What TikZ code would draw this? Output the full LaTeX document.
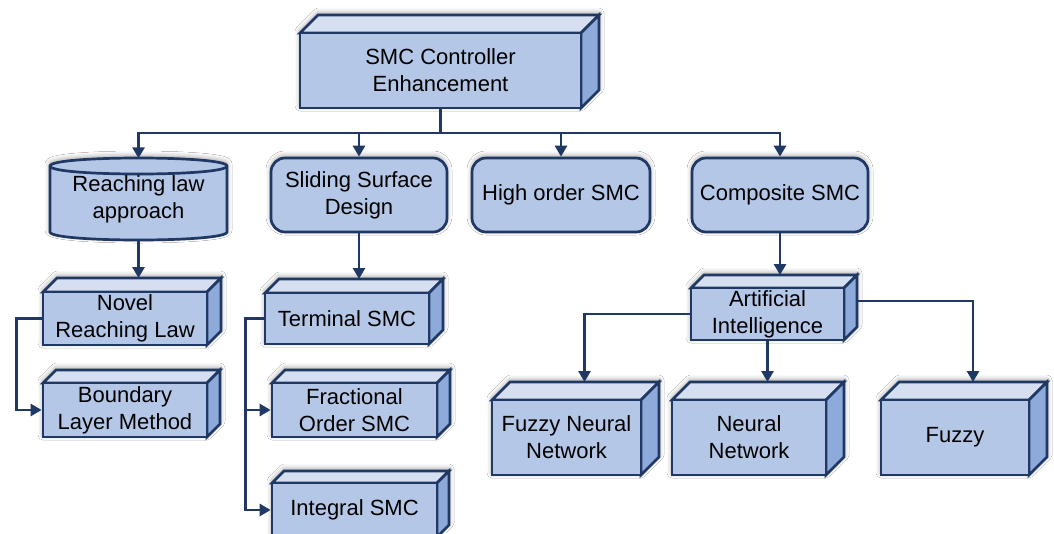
\documentclass[tikz,border=0pt]{standalone}
\usepackage{fontspec}
\setmainfont{Liberation Sans}
\usetikzlibrary{arrows.meta,shadows.blur}

\definecolor{boxfront}{HTML}{B4C7E7}
\definecolor{boxtop}{HTML}{D6DFF1}
\definecolor{boxside}{HTML}{8EAADB}
\definecolor{navy}{HTML}{203864}

\newcommand\boxfont{\fontsize{22}{27}\selectfont}

\tikzset{
  outline/.style={draw=navy, line width=2.7pt, line join=miter},
  softshadow/.style={blur shadow={shadow xshift=0pt, shadow yshift=2pt,
      shadow blur radius=5pt, shadow opacity=40}},
  cubefront/.style={outline, fill=boxfront, inner sep=0pt, align=center, font=\boxfont},
  cubetop/.style={outline, fill=boxtop},
  cubeside/.style={outline, fill=boxside},
  roundbox/.style={outline, fill=boxfront, rounded corners=14pt, inner sep=0pt,
      align=center, minimum height=74pt, font=\boxfont, softshadow},
  link/.style={draw=navy, line width=2.7pt},
  arr/.style={link, -{Triangle[length=11pt,width=12pt]}},
}

% 3-D block: name, front-face x1, y1, x2, y2, depth, text
\newcommand\cubenode[7]{%
  \path[softshadow, fill=white] (#2,#5) -- (#2,#3) -- ({#2+#6},{#3-#6}) -- ({#4+#6},{#3-#6})
      -- ({#4+#6},{#5-#6}) -- (#4,#5) -- cycle;
  \filldraw[cubetop] (#2,#3) -- ({#2+#6},{#3-#6}) -- ({#4+#6},{#3-#6}) -- (#4,#3) -- cycle;
  \filldraw[cubeside] (#4,#3) -- ({#4+#6},{#3-#6}) -- ({#4+#6},{#5-#6}) -- (#4,#5) -- cycle;
  \node[cubefront, minimum width={(#4-#2)*1pt}, minimum height={(#5-#3)*1pt}]
      (#1) at ({(#2+#4)/2},{(#3+#5)/2}) {#7};
  \coordinate (#1 top) at ({(#2+#4)/2+#6},{#3-#6});
}

\begin{document}
\begin{tikzpicture}[x=1pt, y=-1pt]
\useasboundingbox (0,0) rectangle (1054,533);
\clip (0,0) rectangle (1054,533);
\fill[white] (0,0) rectangle (1054,533);

% root
\cubenode{root}{300}{33}{581}{108}{18}{SMC Controller\\Enhancement}

% second level
\path[softshadow, fill=white] (50,166) -- (50,232) .. controls (50,242.67) and (227,242.67) .. (227,232)
   -- (227,166) .. controls (227,155.33) and (50,155.33) .. (50,166) -- cycle;
\filldraw[outline, fill=boxfront] (50,166) -- (50,232) .. controls (50,242.67) and (227,242.67) .. (227,232)
   -- (227,166) .. controls (227,155.33) and (50,155.33) .. (50,166) -- cycle;
\draw[outline] (50,166) .. controls (50,176.67) and (227,176.67) .. (227,166);
\node[inner sep=0pt, minimum width=177pt, minimum height=82pt, align=center, font=\boxfont]
   (reach) at (138.5,199.5) {Reaching law\\approach};

\node[roundbox, minimum width=176pt] (slide) at (359,195) {Sliding Surface\\Design};
\node[roundbox, minimum width=178pt] (high) at (561,195) {High order SMC};
\node[roundbox, minimum width=176pt] (comp) at (780,195) {Composite SMC};

% third level
\cubenode{novel}{43}{292}{207}{345}{14}{Novel\\Reaching Law}
\cubenode{boundary}{43}{383}{207}{437}{13}{Boundary\\Layer Method}
\cubenode{terminal}{265}{293}{429}{344}{14}{Terminal SMC}
\cubenode{fractional}{272}{383}{437}{437}{13}{Fractional\\Order SMC}
\cubenode{integral}{272}{483}{437}{537}{12}{Integral SMC}
\cubenode{ai}{691}{288}{844}{340}{13}{Artificial\\Intelligence}

% fourth level
\cubenode{fnn}{492}{400}{641}{475}{18}{Fuzzy Neural\\Network}
\cubenode{nn}{672}{400}{826}{475}{18}{Neural\\Network}
\cubenode{fuzzy}{881}{400}{1029}{475}{18}{Fuzzy}

% connectors
\coordinate (bus) at (440.5,133);
\draw[link] (root.south) -- (bus);
\draw[arr] (bus) -| (reach.north);
\draw[arr] (bus) -| (slide.north);
\draw[arr] (bus) -| (high.north);
\draw[arr] (bus) -| (comp.north);

\draw[arr] (reach.south) -- (reach.south |- novel top);
\draw[arr] (slide.south) -- (slide.south |- terminal top);
\draw[arr] (comp.south) -- (comp.south |- ai top);

\draw[arr] (novel.west) -- ++(-25,0) |- (boundary.west);
\draw[arr] (terminal.west) -- ++(-18,0) |- (fractional.west);
\draw[arr] (terminal.west) -- ++(-18,0) |- (integral.west);

\draw[arr] (ai.west) -| (fnn top);
\draw[arr] (ai.south) -- (ai.south |- nn top);
\draw[arr] ([shift={(13pt,13pt)}]ai.east) -| (fuzzy top);
\end{tikzpicture}
\end{document}
